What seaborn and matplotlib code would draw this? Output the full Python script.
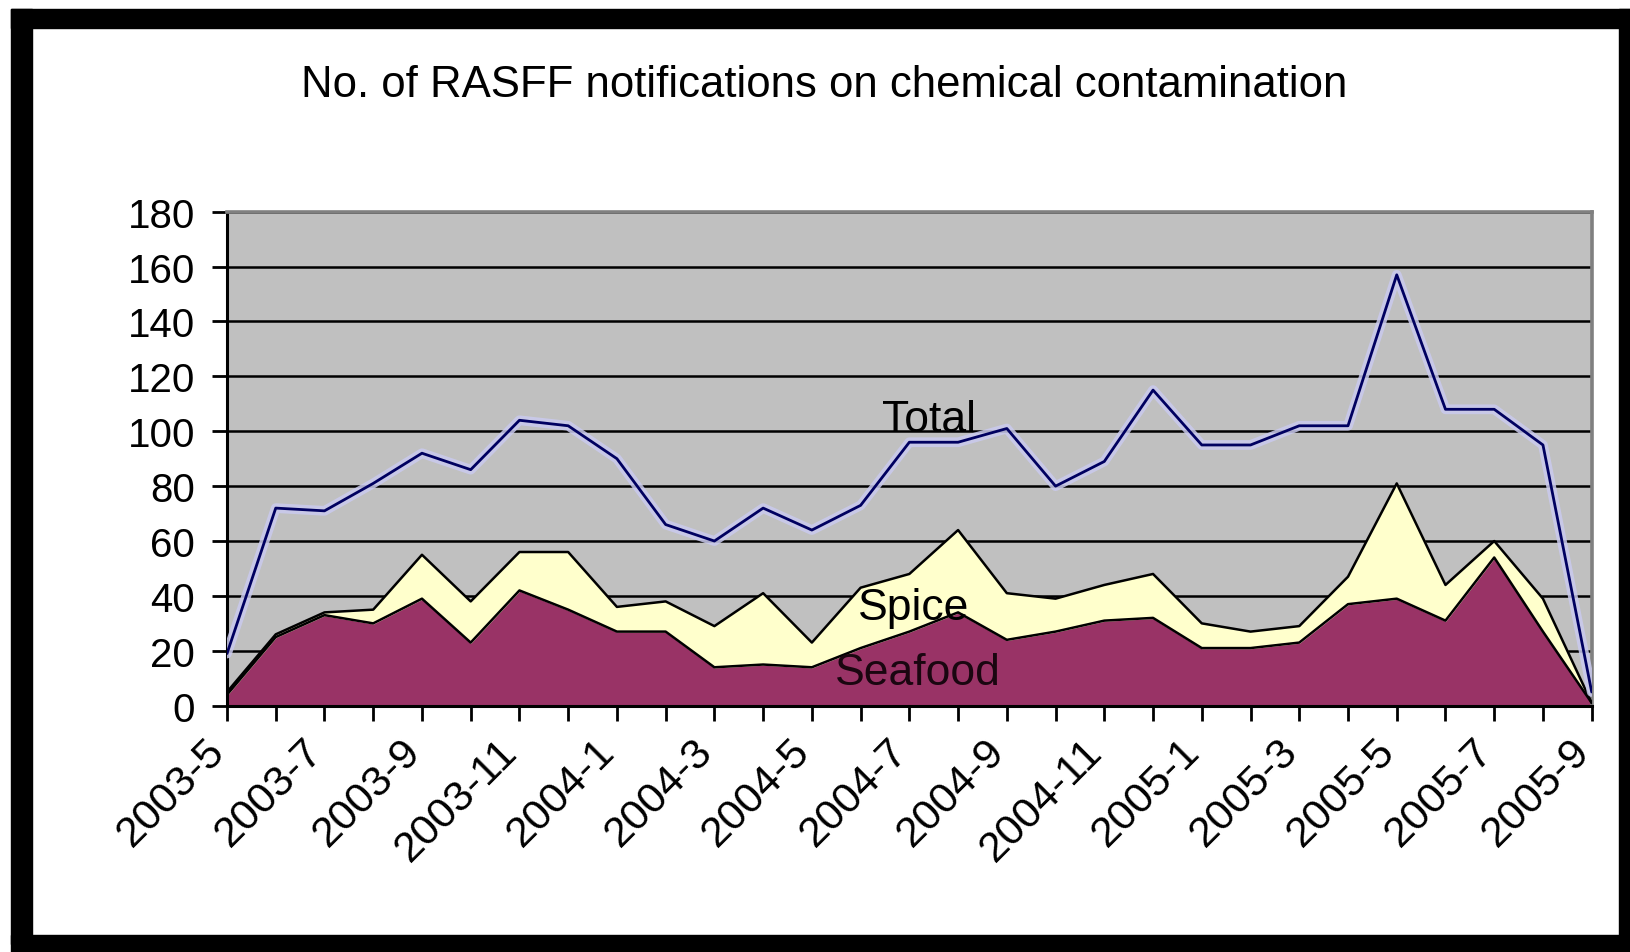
import matplotlib
matplotlib.use("Agg")
import matplotlib.pyplot as plt
import matplotlib.transforms as mtransforms
from matplotlib.patches import Rectangle
import pandas as pd
import seaborn as sns

months = [
    "2003-5", "2003-6", "2003-7", "2003-8", "2003-9", "2003-10", "2003-11", "2003-12",
    "2004-1", "2004-2", "2004-3", "2004-4", "2004-5", "2004-6", "2004-7", "2004-8",
    "2004-9", "2004-10", "2004-11", "2004-12", "2005-1", "2005-2", "2005-3", "2005-4",
    "2005-5", "2005-6", "2005-7", "2005-8", "2005-9",
]
seafood = [4, 25, 33, 30, 39, 23, 42, 35, 27, 27, 14, 15, 14, 21, 27, 34,
           24, 27, 31, 32, 21, 21, 23, 37, 39, 31, 54, 27, 1]
spice = [1, 1, 1, 5, 16, 15, 14, 21, 9, 11, 15, 26, 9, 22, 21, 30,
         17, 12, 13, 16, 9, 6, 6, 10, 42, 13, 6, 12, 0]
total = [19, 72, 71, 81, 92, 86, 104, 102, 90, 66, 60, 72, 64, 73, 96, 96,
         101, 80, 89, 115, 95, 95, 102, 102, 157, 108, 108, 95, 5]

df = pd.DataFrame({"month": months, "Seafood": seafood, "Spice": spice, "Total": total})
df["idx"] = range(len(df))
df["spice_top"] = df["Seafood"] + df["Spice"]

sns.set_style("white")
plt.rcParams["font.family"] = ["Liberation Sans", "DejaVu Sans"]
plt.rcParams["text.color"] = "black"
plt.rcParams["xtick.color"] = "black"
plt.rcParams["ytick.color"] = "black"

fig = plt.figure(figsize=(16.30, 9.53), dpi=100)
ax = fig.add_axes([227 / 1630, 1 - 706.7 / 953, (1591.7 - 227) / 1630, (706.7 - 212.7) / 953])
ax.set_facecolor("#C0C0C0")

# stacked areas
ax.fill_between(df["idx"], 0, df["Seafood"], color="#993366", zorder=2)
ax.fill_between(df["idx"], df["Seafood"], df["spice_top"], color="#FFFFCC", zorder=2)
sns.lineplot(x="idx", y="Seafood", data=df, color="black", lw=1.8, ax=ax, zorder=3)
sns.lineplot(x="idx", y="spice_top", data=df, color="black", lw=1.8, ax=ax, zorder=3)

# total line with a pale halo like the original
sns.lineplot(x="idx", y="Total", data=df, color="#CACAEE", lw=7, ax=ax, zorder=3, alpha=0.85)
sns.lineplot(x="idx", y="Total", data=df, color="#000060", lw=2, ax=ax, zorder=4)

ax.text(13.44, 100, "Total", fontsize=32, ha="left", va="baseline", zorder=5)
ax.text(12.95, 31.6, "Spice", fontsize=32, ha="left", va="baseline", zorder=5)
ax.text(12.47, 7.9, "Seafood", fontsize=32, ha="left", va="baseline", color="#1a0610", zorder=5)

ax.set_xlim(0, len(months) - 1)
ax.set_ylim(0, 180)
ax.set_yticks(range(0, 181, 20))
ax.yaxis.grid(True, color="black", lw=1.8, zorder=1)
ax.set_axisbelow(True)

ax.set_xticks(range(len(months)))
ax.set_xticklabels([m if i % 2 == 0 else "" for i, m in enumerate(months)],
                   rotation=45, ha="right", va="top", rotation_mode="anchor")
ax.tick_params(axis="both", direction="out", length=11, width=2, color="black",
               bottom=True, left=True)
ax.tick_params(axis="x", pad=7, labelsize=31)
ax.tick_params(axis="y", pad=12, labelsize=29)
shift = mtransforms.ScaledTranslation(-22 / 100, 0, fig.dpi_scale_trans)
for lab in ax.get_xticklabels():
    lab.set_transform(lab.get_transform() + shift)

ax.set_xlabel("")
ax.set_ylabel("")
for side in ["left", "bottom"]:
    ax.spines[side].set_color("black")
    ax.spines[side].set_linewidth(2.2)
for side in ["top", "right"]:
    ax.spines[side].set_visible(True)
    ax.spines[side].set_color("#808080")
    ax.spines[side].set_linewidth(2.6)

fig.text(824 / 1630, 1 - 97 / 953, "No. of RASFF notifications on chemical contamination",
         fontsize=31.5, ha="center", va="baseline")

# black frame around the chart
for x0, y0, w, h in [(11, 10, 21, 935), (11, 10, 1619, 19), (1619, 10, 11, 943), (11, 936, 1619, 17)]:
    fig.patches.append(Rectangle((x0 / 1630, 1 - (y0 + h) / 953), w / 1630, h / 953,
                                 transform=fig.transFigure, color="black", zorder=10))

fig.savefig("out.png", dpi=100)
